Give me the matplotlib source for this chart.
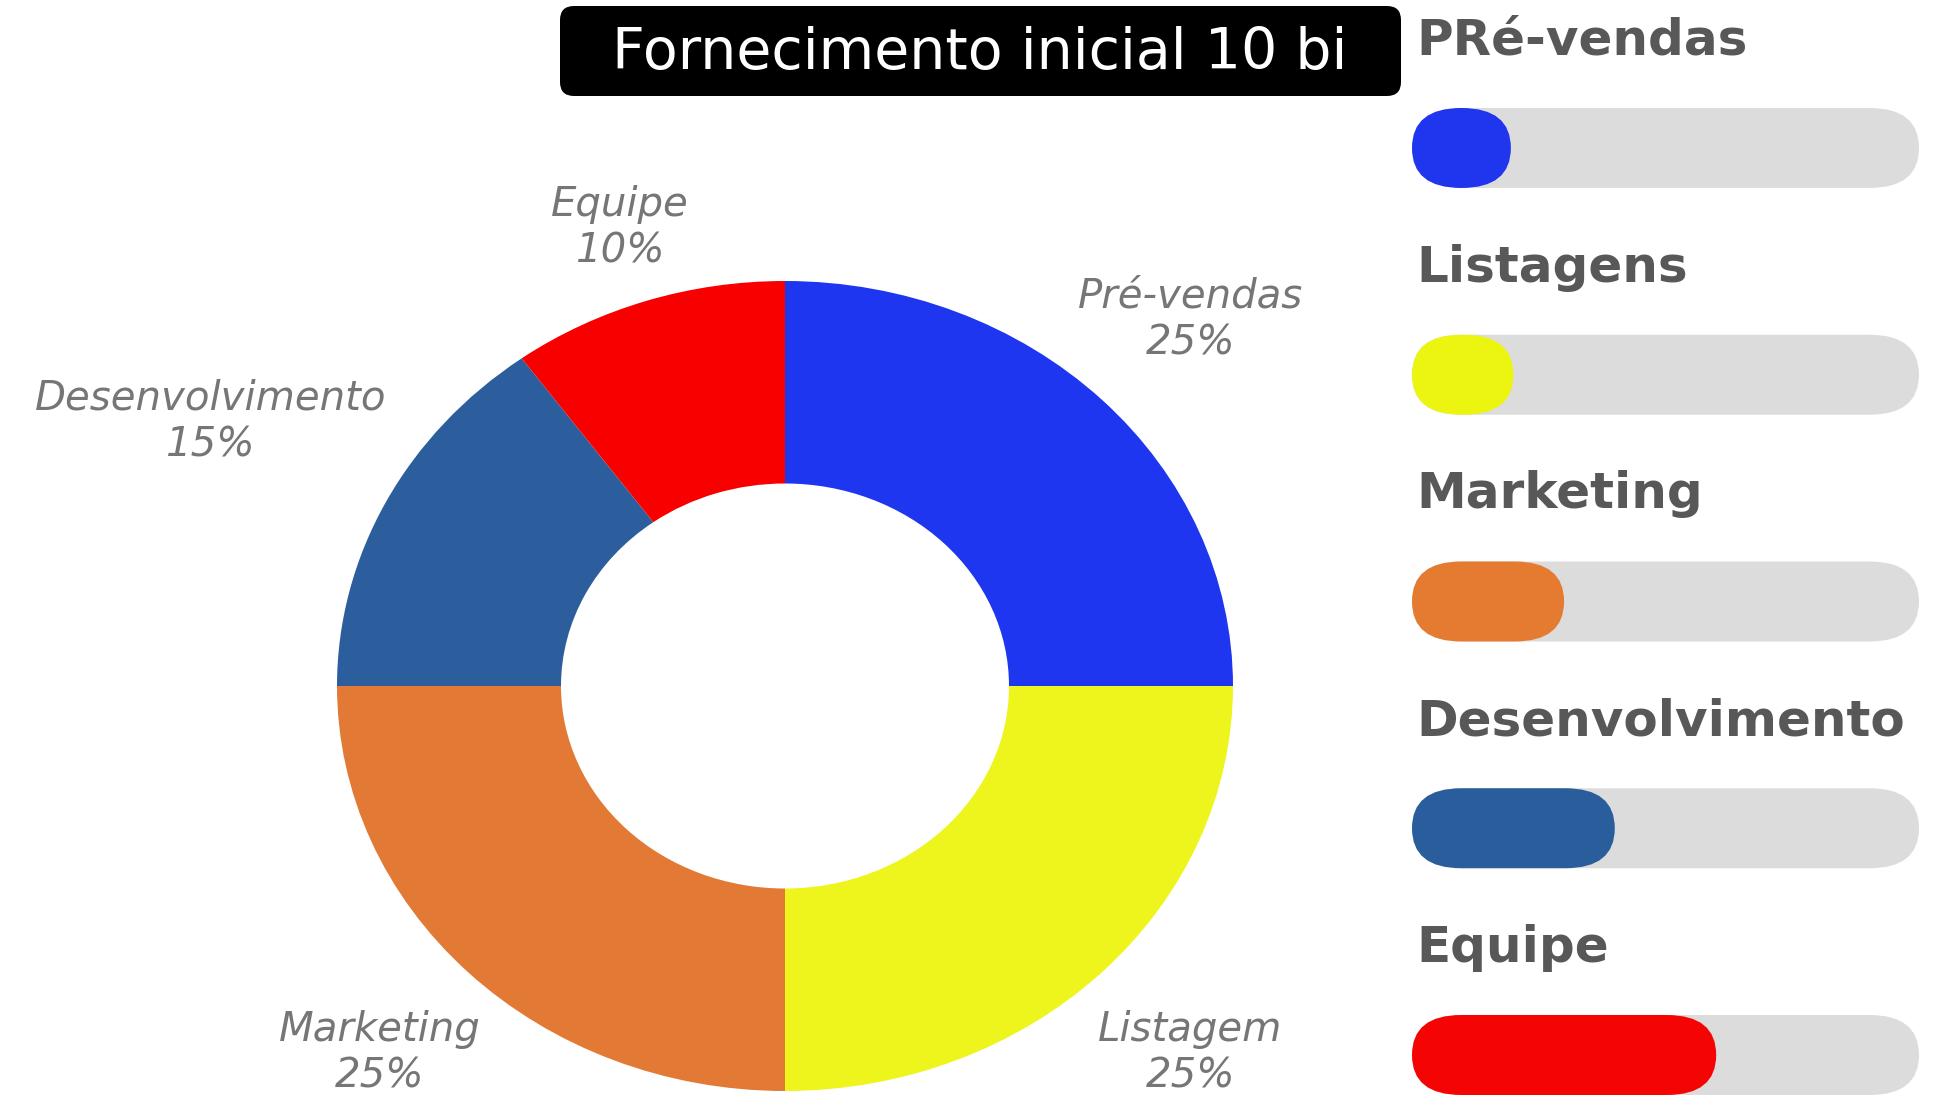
import matplotlib
matplotlib.use("Agg")
import matplotlib.pyplot as plt
from matplotlib.patches import FancyBboxPatch
import numpy as np

# ---------------- data ----------------
title = "Fornecimento inicial 10 bi"
pie_labels = ["Pré-vendas", "Listagem", "Marketing", "Desenvolvimento", "Equipe"]
pie_values = [25, 25, 25, 15, 10]
pie_colors = ["#1F36F0", "#EEF51C", "#E27A35", "#2C5E9E", "#F80000"]

bar_labels = ["PRé-vendas", "Listagens", "Marketing", "Desenvolvimento", "Equipe"]
bar_values = [19.5, 20, 30, 40, 60]
bar_colors = ["#1F35EE", "#ECF510", "#E47B31", "#2A5D9C", "#F50404"]
bar_max = 100

# label distances (style) for pie labels
label_dist = [1.28, 1.28, 1.28, 1.44, 1.19]

W, H = 1939, 1101
fig = plt.figure(figsize=(W / 100, H / 100), dpi=100)
fig.patch.set_facecolor("white")

# overlay pixel axes
ax0 = fig.add_axes([0, 0, 1, 1])
ax0.set_xlim(0, W)
ax0.set_ylim(H, 0)
ax0.axis("off")

# title box
box = FancyBboxPatch((560, 6), 841, 90, boxstyle="round,pad=0,rounding_size=14",
                     facecolor="black", edgecolor="none", zorder=2)
ax0.add_patch(box)
ax0.text(980, 53, title, color="white", fontsize=41, family="DejaVu Sans",
         ha="center", va="center", zorder=3)

# ---------------- donut ----------------
cx, cy, rx, ry = 785, 686, 448, 405
axp = fig.add_axes([(cx - rx) / W, (H - (cy + ry)) / H, 2 * rx / W, 2 * ry / H])
wedges, _ = axp.pie(pie_values, colors=pie_colors, startangle=90, counterclock=False,
                    radius=1, wedgeprops=dict(width=0.5, linewidth=0))
axp.set_aspect("auto")
axp.set_xlim(-1, 1)
axp.set_ylim(-1, 1)
axp.axis("off")

total = sum(pie_values)
cum = 0
for lab, v, d in zip(pie_labels, pie_values, label_dist):
    mid = np.deg2rad(90 - 360 * (cum + v / 2) / total)
    cum += v
    pct = f"{round(100 * v / total)}%"
    axp.text(d * np.cos(mid), d * np.sin(mid), f"{lab}\n{pct}", ha="center", va="center",
             fontsize=29, family="DejaVu Sans", style="italic",
             color="#767676", linespacing=1.25, clip_on=False)

# ---------------- progress bars ----------------
top_px = 34.6
row_px = 226.75
bottom_row = (H - 148) / row_px
axb = fig.add_axes([1412 / W, 0, 507 / W, (H - top_px) / H])
axb.set_xlim(0, bar_max)
axb.set_ylim(bottom_row, -0.5)
axb.axis("off")

bar_h = 80 / row_px
dr = 49.5 / (507 / bar_max)
for i, (lab, v, c) in enumerate(zip(bar_labels, bar_values, bar_colors)):
    r = dr
    asp = (bar_h / 2) / r
    track = FancyBboxPatch((0, i - bar_h / 2), bar_max, bar_h,
                           boxstyle=f"round,pad=0,rounding_size={r}",
                           mutation_aspect=asp, facecolor="#DCDCDC", edgecolor="none", zorder=1)
    axb.add_patch(track)
    rf = min(r, v / 2)
    fill = FancyBboxPatch((0, i - bar_h / 2), v, bar_h,
                          boxstyle=f"round,pad=0,rounding_size={rf}",
                          mutation_aspect=(bar_h / 2) / rf, facecolor=c, edgecolor="none", zorder=2)
    axb.add_patch(fill)
    axb.text(0.8, i - 0.472, lab, ha="left", va="center", fontsize=36,
             family="DejaVu Sans", fontweight="bold", color="#585858", clip_on=False)

fig.savefig("out.png", dpi=100, facecolor="white")
